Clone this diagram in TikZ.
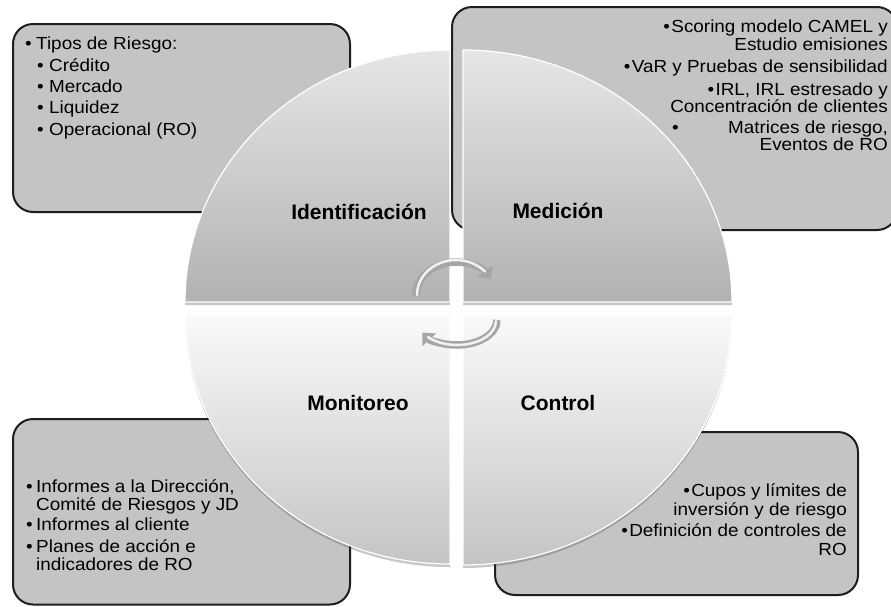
\documentclass[tikz,border=0pt]{standalone}
\usepackage{fontspec}
\setmainfont{Liberation Sans}
\newfontfamily\bodyf{Liberation Sans}[FakeStretch=1.08]
\usetikzlibrary{arrows.meta,shadows}
\definecolor{boxgray}{HTML}{C4C4C4}
\definecolor{boxline}{HTML}{1E1E1E}
\definecolor{qtopA}{HTML}{E6E6E6}
\definecolor{qtopB}{HTML}{B2B2B2}
\definecolor{qbotA}{HTML}{FAFAFA}
\definecolor{qbotB}{HTML}{C4C4C4}
\definecolor{arrowout}{HTML}{A6A6A6}
\definecolor{arrowin}{HTML}{F2F2F2}
\tikzset{
  infobox/.style={draw=boxline, line width=2pt, fill=boxgray, rounded corners=20pt},
  qshadow/.style={drop shadow={shadow xshift=0pt, shadow yshift=-3pt, opacity=.3, fill=black!70}},
  qtop/.style={qshadow, top color=qtopA, bottom color=qtopB, draw=white, line width=1.2pt},
  qbot/.style={qshadow, top color=qbotA, bottom color=qbotB, draw=white, line width=1.2pt},
  txt/.style={font=\bodyf\fontsize{17.5}{18}\selectfont, inner sep=0pt, text=black},
  lbl/.style={font=\fontsize{21}{24}\selectfont\bfseries, inner sep=0pt, text=black, anchor=base},
  cyclearrow/.style={draw=arrowout, line width=7.5pt, -{Triangle[length=10pt,width=18pt]}},
  cyclehi/.style={draw=arrowin, line width=2.5pt, line cap=round}
}
\begin{document}
\begin{tikzpicture}[x=1pt,y=-1pt]
\useasboundingbox (0,0) rectangle (891,606);
\clip (0,0) rectangle (891,606);
\fill[white] (0,0) rectangle (891,606);

% boxes
\path[infobox] (13,24) rectangle (350,212);
\path[infobox] (452,7) rectangle (897,230);
\path[infobox] (13,419) rectangle (350,604.5);
\path[infobox] (495,432) rectangle (858,595);

% quarters
\path[qtop] (450,302) -- (450,50) arc[start angle=270, end angle=180, x radius=265, y radius=252] -- cycle;
\path[qtop] (463,302) -- (463,50) arc[start angle=270, end angle=360, x radius=269, y radius=252] -- cycle;
\path[qbot] (450,314) -- (185,314) arc[start angle=180, end angle=90, x radius=265, y radius=250] -- cycle;
\path[qbot] (463,314) -- (732,314) arc[start angle=0, end angle=90, x radius=269, y radius=251] -- cycle;

% labels
\node[lbl] (ident) at (359,219) {Identificación};
\node[lbl] (medic) at (558,218) {Medición};
\node[lbl] (monit) at (358,410) {Monitoreo};
\node[lbl] (contr) at (558,410) {Control};

% cycle arrows
\coordinate (ca1) at (416,296);
\coordinate (ca2) at (497,320);
\draw[cyclearrow] (ca1) arc[start angle=180, end angle=330, x radius=40, y radius=34];
\draw[cyclehi] (ca1) ++(1,-1) arc[start angle=180, end angle=318, x radius=39, y radius=35];
\draw[cyclearrow] (ca2) arc[start angle=0, end angle=150, x radius=40, y radius=25];
\draw[cyclehi] (ca2) ++(-1,1) arc[start angle=0, end angle=138, x radius=39, y radius=24];

% top-left text
\node[txt, anchor=base west] (tl1) at (25,49) {\makebox[11pt][l]{•}Tipos de Riesgo:};
\node[txt, anchor=base west] (tl2) at (37,71) {\makebox[12pt][l]{•}Crédito};
\node[txt, anchor=base west] (tl3) at (37,92) {\makebox[12pt][l]{•}Mercado};
\node[txt, anchor=base west] (tl4) at (37,113) {\makebox[12pt][l]{•}Liquidez};
\node[txt, anchor=base west] (tl5) at (37,135) {\makebox[12pt][l]{•}Operacional (RO)};

% top-right text
\node[txt, anchor=base east] (tr1) at (888,32) {\makebox[8pt][l]{•}Scoring modelo CAMEL y};
\node[txt, anchor=base east] (tr2) at (888,50) {Estudio emisiones};
\node[txt, anchor=base east] (tr3) at (888,72) {\makebox[8pt][l]{•}VaR y Pruebas de sensibilidad};
\node[txt, anchor=base east] (tr4) at (888,95) {\makebox[8pt][l]{•}IRL, IRL estresado y};
\node[txt, anchor=base east] (tr5) at (888,112) {Concentración de clientes};
\node[txt, anchor=base west] (tr6b) at (672,133) {•};
\node[txt, anchor=base east] (tr6) at (888,133) {Matrices de riesgo,};
\node[txt, anchor=base east] (tr7) at (888,150) {Eventos de RO};

% bottom-left text
\node[txt, anchor=base west] (bl1) at (26,492) {\makebox[10pt][l]{•}Informes a la Dirección,};
\node[txt, anchor=base west] (bl2) at (36,510) {Comité de Riesgos y JD};
\node[txt, anchor=base west] (bl3) at (26,530) {\makebox[10pt][l]{•}Informes al cliente};
\node[txt, anchor=base west] (bl4) at (26,552) {\makebox[10pt][l]{•}Planes de acción e};
\node[txt, anchor=base west] (bl5) at (36,570) {indicadores de RO};

% bottom-right text
\node[txt, anchor=base east] (br1) at (847,496) {\makebox[8pt][l]{•}Cupos y límites de};
\node[txt, anchor=base east] (br2) at (847,515) {inversión y de riesgo};
\node[txt, anchor=base east] (br3) at (847,536) {\makebox[8pt][l]{•}Definición de controles de};
\node[txt, anchor=base east] (br4) at (847,555) {RO};
\end{tikzpicture}
\end{document}
